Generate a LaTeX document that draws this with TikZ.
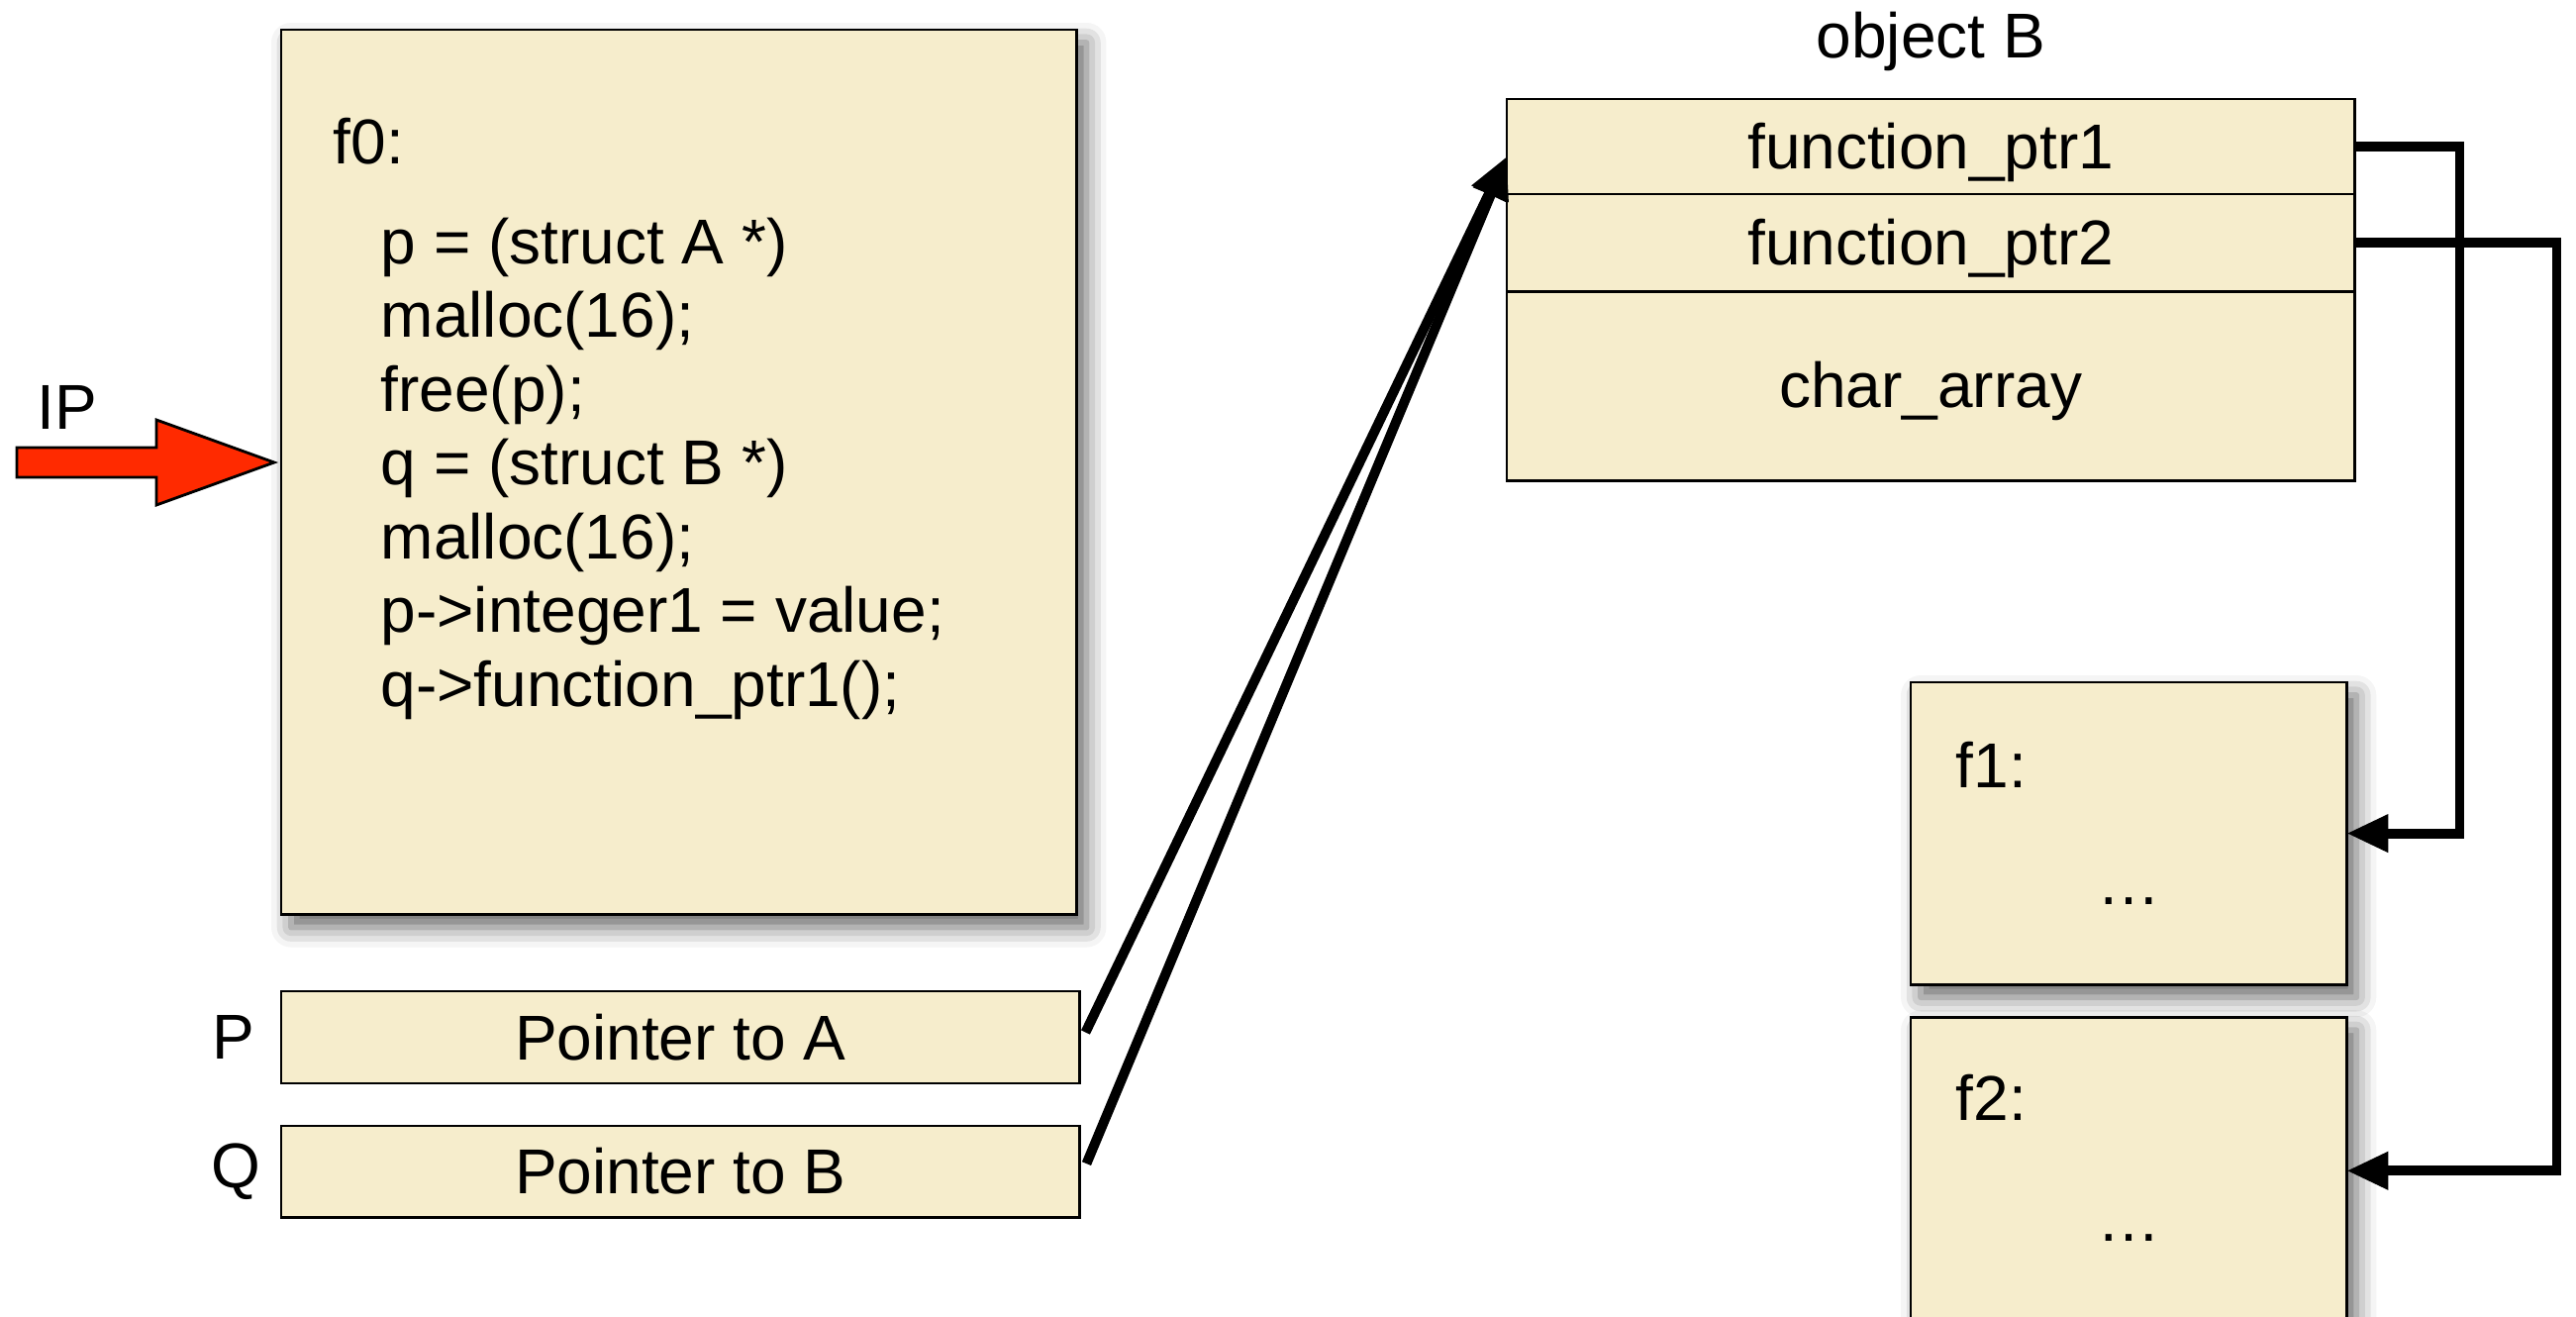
\documentclass[tikz,border=0pt]{standalone}
\usepackage{fontspec}
\setmainfont{Liberation Sans}
\usetikzlibrary{positioning,arrows.meta,shadows.blur}
\definecolor{memfill}{HTML}{F6EDCC}
\definecolor{ipred}{HTML}{FF2A00}
\newcommand{\diagfont}{\fontsize{18.2}{21.2}\selectfont}

\begin{document}
\begin{tikzpicture}[
  x=0.01cm, y=-0.01cm,
  every node/.style={font=\diagfont},
  mem/.style={draw, line width=0.8pt, fill=memfill, inner sep=0pt, outer sep=0pt},
  shade box/.style={blur shadow={shadow xshift=0.1cm, shadow yshift=-0.13cm, shadow blur radius=0.2cm, shadow opacity=60}},
  field/.style={mem, minimum width=8.56cm, text height=12.6pt, text depth=0pt},
  ptr/.style={line width=2.8pt, -{Triangle[length=0.42cm, width=0.36cm]}},
  code/.style={align=left, inner sep=0pt, anchor=north west}
]
\useasboundingbox (0,0) rectangle (2602,1330);
\clip (0,0) rectangle (2602,1330);

% function f0
\node[mem, shade box, anchor=north west, minimum width=8.03cm, minimum height=8.93cm] (f0) at (284,30) {};
\node[anchor=base west, inner sep=0pt] (f0name) at (336,166) {f0:};
\node[code] (f0code) at (384,219) {p = (struct A *)\\malloc(16);\\free(p);\\q = (struct B *)\\malloc(16);\\p->integer1 = value;\\q->function\_ptr1();};

% instruction pointer
\node[inner sep=0pt, anchor=base] (ip) at (68,433) {IP};
\draw[line width=0.8pt, fill=ipred] (17,452) -- (158,452) -- (158,424) -- (277,467) -- (158,510) -- (158,482) -- (17,482) -- cycle;

% pointers
\node[mem, anchor=north west, minimum width=8.06cm, minimum height=0.93cm] (pa) at (284,1001) {Pointer to A};
\node[mem, below=0.43cm of pa, minimum width=8.06cm, minimum height=0.92cm] (pb) {Pointer to B};
\node[left=0.14cm of pa] (pname) {P};
\node[left=0.08cm of pb] (qname) {Q};

% object B
\node[field, anchor=north west, minimum height=0.96cm] (fp1) at (1522,100) {function\_ptr1};
\node[field, below=0pt of fp1, minimum height=0.98cm] (fp2) {function\_ptr2};
\node[field, below=0pt of fp2, minimum height=1.91cm] (carr) {char\_array};
\node[above=0.16cm of fp1] (objb) {object B};

% functions f1 and f2
\node[mem, shade box, anchor=north west, minimum width=4.40cm, minimum height=3.05cm] (f1) at (1930,689) {};
\node[mem, shade box, below=0.33cm of f1, minimum width=4.40cm, minimum height=3.1cm] (f2) {};
\node[anchor=base west, inner sep=0pt] (f1name) at ([xshift=0.45cm, yshift=-1.06cm]f1.north west) {f1:};
\node[anchor=base west, inner sep=0pt] (f2name) at ([xshift=0.45cm, yshift=-1.04cm]f2.north west) {f2:};
\node (f1body) at ([yshift=-0.68cm]f1.center) {…};
\node (f2body) at ([yshift=-0.68cm]f2.center) {…};

% connectors
\draw[ptr] ([xshift=0.06cm, yshift=0.05cm]pa.east) -- ([yshift=-0.1cm]fp1.west);
\draw[ptr] ([xshift=0.07cm, yshift=0.08cm]pb.east) -- ([yshift=-0.1cm]fp1.west);
\draw[ptr] (fp1.east) -- ++(106,0) |- (f1.east);
\draw[ptr] (fp2.east) -- ++(204,0) |- (f2.east);
\end{tikzpicture}
\end{document}
